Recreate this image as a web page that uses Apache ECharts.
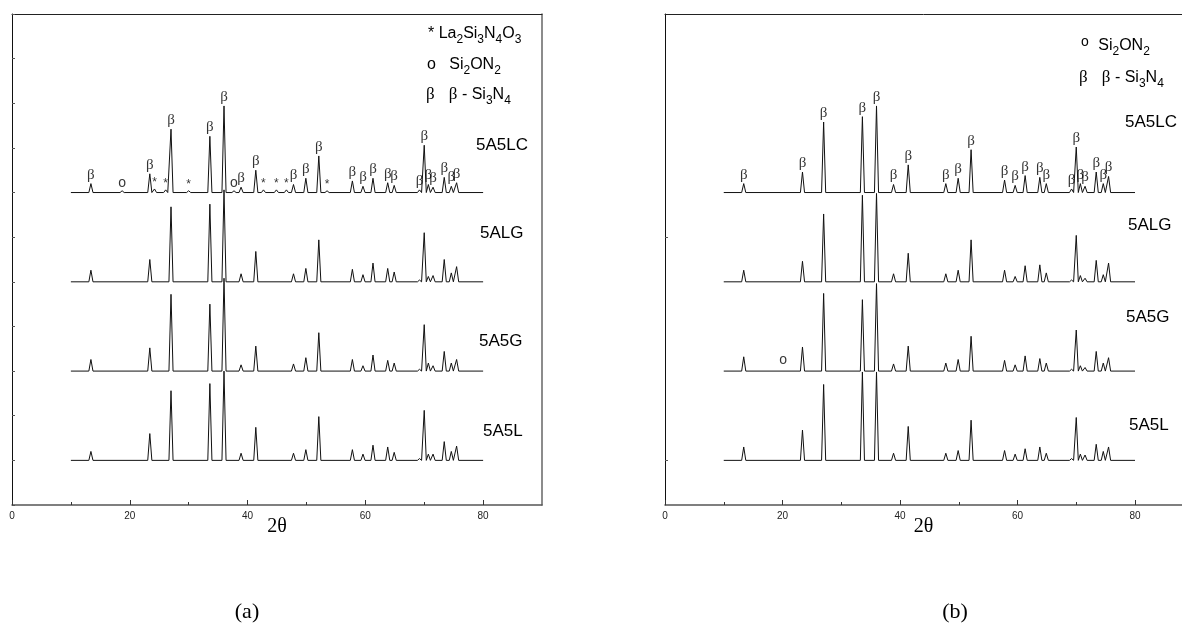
<!DOCTYPE html>
<html>
<head>
<meta charset="utf-8">
<script src="https://cdn.jsdelivr.net/npm/echarts@6/dist/echarts.min.js"></script>
<style>
  html, body { margin: 0; padding: 0; background: #fff; }
  #chart { width: 1182px; height: 634px; }
</style>
</head>
<body>
<div id="chart"></div>
<script>
// samples, top to bottom, and the vertical shift used to stack them
var samples = ['5A5LC', '5ALG', '5A5G', '5A5L'];
var offsets = [350, 250, 150, 50];

// beta-Si3N4 reflections (2theta, deg)
var betaPos = [13.4, 23.4, 27.0, 33.6, 36.0, 38.9, 41.4, 47.8, 49.9, 52.1, 57.8, 59.6,
               61.3, 63.8, 64.9, 69.2, 70.0, 70.7, 71.5, 73.4, 74.6, 75.5];

// peak intensities (a.u.) at betaPos, panel (a)
var a5A5LC = [10, 21, 71, 63, 97, 6, 25, 9, 16, 41, 13, 7, 16, 11, 8, 3, 53, 9, 6, 17, 7, 11];
var a5ALG  = [13, 25, 84, 87, 103, 9, 34, 9, 15, 47, 14, 8, 21, 15, 11, 2, 55, 6, 7, 25, 10, 17];
var a5A5G  = [13, 26, 86, 75, 104, 7, 28, 8, 15, 43, 13, 6, 18, 12, 9, 2, 52, 9, 6, 22, 9, 13];
var a5A5L  = [10, 30, 78, 86, 100, 8, 37, 8, 12, 49, 12, 7, 17, 15, 9, 2, 56, 7, 7, 21, 10, 16];

// panel (b)
var b5A5LC = [10, 23, 79, 85, 97, 9, 31, 10, 16, 48, 14, 8, 19, 17, 10, 4, 51, 10, 7, 23, 10, 18];
var b5ALG  = [13, 23, 76, 97, 99, 9, 32, 9, 13, 47, 13, 6, 18, 19, 10, 2, 52, 7, 4, 24, 8, 21];
var b5A5G  = [16, 27, 87, 80, 98, 8, 28, 9, 13, 39, 12, 7, 17, 14, 9, 2, 46, 6, 4, 22, 9, 15];
var b5A5L  = [15, 34, 85, 99, 99, 8, 38, 8, 11, 45, 11, 7, 13, 15, 8, 2, 48, 7, 6, 18, 10, 15];

// secondary phases seen in 5A5LC (a): La2Si3N4O3 (*) and Si2ON2 (o)
var laPos = [24.2, 26.1, 30.0, 42.7, 44.9, 46.6, 53.5];
var laH   = [4, 3, 2, 3, 3, 3, 2];
var soPosA = [18.7, 37.7];
var soHA   = [2, 2];
// Si2ON2 mark on 5A5G (b)
var soPosB = [20.1];
var soHB   = [0];

var xTicks = [0, 20, 40, 60, 80];
var xMinor = [10, 30, 50, 70];
var xMaxA = 90, xMaxB = 88;   // (b) runs off the right edge of the page
var scanStart = 10, scanEnd = 80;
var HW = 0.35;

function peaksOf(heights, extraPos, extraH) {
  var pk = betaPos.map(function (p, i) { return [p, heights[i]]; });
  (extraPos || []).forEach(function (p, i) { pk.push([p, extraH[i]]); });
  pk.sort(function (a, b) { return a[0] - b[0]; });
  return pk;
}

function trace(peaks, base) {
  var pts = [[scanStart, base]];
  peaks.forEach(function (p) {
    pts.push([p[0] - HW, base], [p[0], base + p[1]], [p[0] + HW, base]);
  });
  pts.push([scanEnd, base]);
  return pts;
}

function tops(pos, heights, base) {
  return pos.map(function (p, i) { return [p, base + heights[i]]; });
}

var serif = 'Liberation Serif';
var sans = 'Liberation Sans';

// axis indexes used by the data of each panel
var xIdx = [0, 3], yIdx = [0, 2];

function lineSeries(g, data) {
  return {
    type: 'line', xAxisIndex: xIdx[g], yAxisIndex: yIdx[g], data: data,
    showSymbol: false, silent: true, animation: false,
    lineStyle: { color: '#111', width: 1 }
  };
}

function markSeries(g, data, text, font, size, dist) {
  return {
    type: 'scatter', xAxisIndex: xIdx[g], yAxisIndex: yIdx[g], data: data,
    symbolSize: 1, itemStyle: { color: 'rgba(0,0,0,0)' }, silent: true, animation: false,
    label: { show: true, position: 'top', distance: dist, formatter: text,
             fontFamily: font, fontSize: size, color: '#000' }
  };
}

var panelA = [a5A5LC, a5ALG, a5A5G, a5A5L];
var panelB = [b5A5LC, b5ALG, b5A5G, b5A5L];
var series = [];

panelA.forEach(function (h, j) {
  var pk = j === 0 ? peaksOf(h, laPos.concat(soPosA), laH.concat(soHA)) : peaksOf(h);
  series.push(lineSeries(0, trace(pk, offsets[j])));
});
panelB.forEach(function (h, j) {
  series.push(lineSeries(1, trace(peaksOf(h), offsets[j])));
});

series.push(markSeries(0, tops(betaPos, a5A5LC, offsets[0]), 'β', serif, 15, 1));
series.push(markSeries(0, tops(laPos, laH, offsets[0]), '*', sans, 12, 0));
series.push(markSeries(0, tops(soPosA, soHA, offsets[0]), 'o', sans, 14, 0));
series.push(markSeries(1, tops(betaPos, b5A5LC, offsets[0]), 'β', serif, 15, 1));
series.push(markSeries(1, tops(soPosB, soHB, offsets[2]), 'o', sans, 14, 3));

function xAxes(g, max) {
  return [{
    type: 'value', gridIndex: g, min: 0, max: max, position: 'bottom',
    name: '2θ', nameLocation: 'middle', nameGap: 12, nameMoveOverlap: false,
    nameTextStyle: { fontFamily: serif, fontSize: 20, color: '#000', verticalAlign: 'top' },
    axisLine: { onZero: false, lineStyle: { color: '#555', width: 1.5 } },
    axisTick: { inside: true, length: 5, customValues: xTicks, lineStyle: { color: '#333' } },
    axisLabel: { customValues: xTicks, fontFamily: sans, fontSize: 10, color: '#222', margin: 6 },
    splitLine: { show: false }
  }, {
    type: 'value', gridIndex: g, min: 0, max: max, position: 'bottom',
    axisLine: { show: false, onZero: false },
    axisTick: { inside: true, length: 3, customValues: xMinor, lineStyle: { color: '#333' } },
    axisLabel: { show: false },
    splitLine: { show: false }
  }, {
    type: 'value', gridIndex: g, min: 0, max: max, position: 'top',
    axisLine: { onZero: false, lineStyle: { color: '#222', width: 1 } },
    axisTick: { show: false }, axisLabel: { show: false }, splitLine: { show: false }
  }];
}

var rich = {
  n: { fontFamily: sans, fontSize: 16, fill: '#000' },
  s: { fontFamily: sans, fontSize: 12, fill: '#000', padding: [11, 0, 0, 0] },
  g: { fontFamily: serif, fontSize: 17, fill: '#000' },
  t: { fontFamily: sans, fontSize: 14, fill: '#000', padding: [0, 0, 8, 0] }
};

function txt(x, y, text, size, font) {
  return { type: 'text', x: x, y: y, silent: true,
           style: { text: text, fontFamily: font || sans, fontSize: size || 17, fill: '#000',
                    verticalAlign: 'middle', rich: rich } };
}

var option = {
  animation: false,
  backgroundColor: '#fff',
  grid: [
    { left: 12, top: 14, width: 530, height: 491 },
    { left: 665, top: 14, right: 0, height: 491 }
  ],
  xAxis: xAxes(0, xMaxA).concat(xAxes(1, xMaxB)),
  yAxis: [
    { type: 'value', gridIndex: 0, min: 0, max: 550, interval: 50,
      axisLine: { show: true, onZero: false, lineStyle: { color: '#111' } },
      axisTick: { inside: true, length: 3, lineStyle: { color: '#555' } },
      axisLabel: { show: false }, splitLine: { show: false } },
    { type: 'value', gridIndex: 0, min: 0, max: 550, position: 'right',
      axisLine: { show: true, onZero: false, lineStyle: { color: '#666', width: 1.5 } },
      axisTick: { show: false }, axisLabel: { show: false }, splitLine: { show: false } },
    { type: 'value', gridIndex: 1, min: 0, max: 550, interval: 50,
      axisLine: { show: true, onZero: false, lineStyle: { color: '#111' } },
      axisTick: { inside: true, length: 3, customValues: [50, 300], lineStyle: { color: '#555' } },
      axisLabel: { show: false }, splitLine: { show: false } }
  ],
  series: series,
  graphic: [
    txt(428, 34, '{n|* La}{s|2}{n|Si}{s|3}{n|N}{s|4}{n|O}{s|3}'),
    txt(427, 65, '{n|o   Si}{s|2}{n|ON}{s|2}'),
    txt(426, 95, '{g|β}   {g|β}{n| - Si}{s|3}{n|N}{s|4}'),
    txt(1081, 46, '{t|o}  {n|Si}{s|2}{n|ON}{s|2}'),
    txt(1079, 78, '{g|β}   {g|β}{n| - Si}{s|3}{n|N}{s|4}'),
    txt(476, 145, samples[0]), txt(480, 233, samples[1]),
    txt(479, 341, samples[2]), txt(483, 431, samples[3]),
    txt(1125, 122, samples[0]), txt(1128, 225, samples[1]),
    txt(1126, 317, samples[2]), txt(1129, 425, samples[3]),
    { type: 'text', x: 247, y: 612, silent: true,
      style: { text: '(a)', fontFamily: serif, fontSize: 22, fill: '#000', align: 'center', verticalAlign: 'middle' } },
    { type: 'text', x: 955, y: 612, silent: true,
      style: { text: '(b)', fontFamily: serif, fontSize: 22, fill: '#000', align: 'center', verticalAlign: 'middle' } }
  ]
};

var chart = echarts.init(document.getElementById('chart'));
chart.setOption(option);
window.addEventListener('resize', function () {
  chart.resize();
});
</script>
</body>
</html>
